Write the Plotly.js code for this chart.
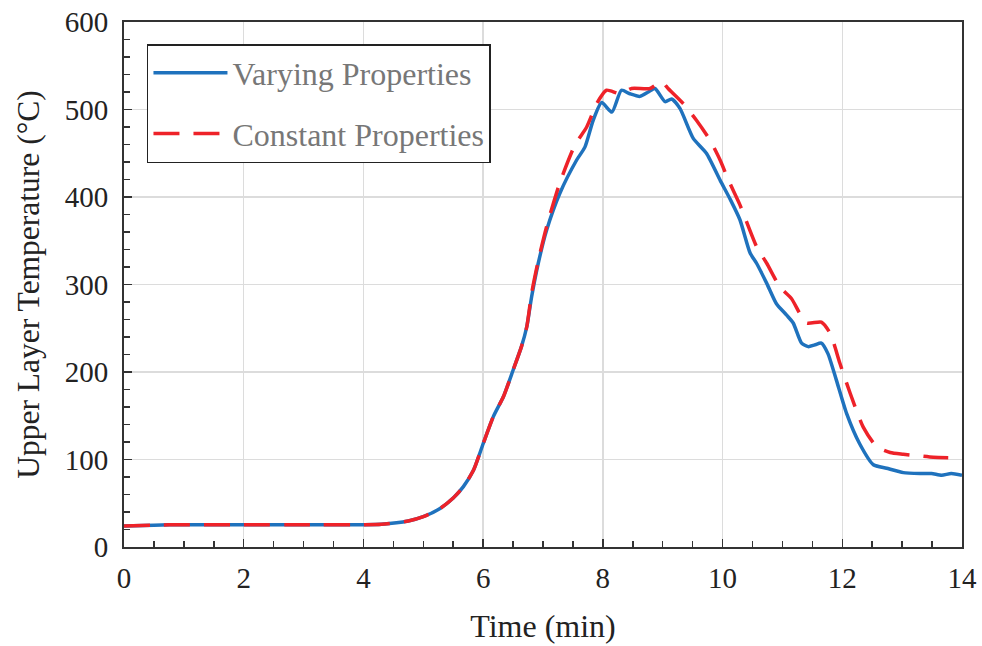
<!DOCTYPE html>
<html>
<head>
<meta charset="utf-8">
<script src="https://cdn.plot.ly/plotly-3.0.1.min.js"></script>
<style>html,body{margin:0;padding:0;background:#fff;}#chart{width:982px;height:646px;}</style>
</head>
<body>
<div id="chart"></div>
<script>
// Varying Properties (blue, solid)
var varyingTime = [0, 0.5, 1, 2, 3, 4, 4.3, 4.75, 5.0, 5.28, 5.5, 5.67, 5.84, 6.0, 6.17, 6.34, 6.5, 6.64, 6.73, 6.81, 6.92, 7.06, 7.28, 7.56, 7.70, 7.84, 7.98, 8.15, 8.31, 8.45, 8.62, 8.76, 8.87, 9.04, 9.15, 9.29, 9.51, 9.73, 9.96, 10.13, 10.29, 10.46, 10.57, 10.74, 10.90, 11.07, 11.18, 11.32, 11.43, 11.54, 11.65, 11.76, 11.90, 12.07, 12.29, 12.52, 12.74, 13.02, 13.30, 13.49, 13.66, 13.82, 14.0];
var varyingTemp = [24, 25, 25.5, 25.5, 25.5, 25.5, 26, 29.7, 34.6, 44, 56, 69, 88, 118, 149, 172, 202, 229, 252, 286, 324, 362, 404, 442, 457, 488, 508, 497, 522, 518, 515, 520, 524, 509, 512, 501, 467, 450, 419, 397, 374, 336, 324, 301, 278, 265, 256, 233, 229, 231, 233, 221, 191, 153, 118, 94, 90, 85, 84, 84, 82, 84, 82];

// Constant Properties (red, dashed)
var constantTime = [0, 0.5, 1, 2, 3, 4, 4.3, 4.75, 5.0, 5.28, 5.5, 5.67, 5.84, 6.0, 6.17, 6.34, 6.5, 6.64, 6.73, 6.81, 6.92, 7.06, 7.28, 7.53, 7.73, 7.90, 8.06, 8.29, 8.48, 8.79, 8.98, 9.09, 9.34, 9.56, 9.79, 9.96, 10.10, 10.29, 10.57, 10.74, 10.96, 11.15, 11.40, 11.65, 11.80, 11.96, 12.13, 12.35, 12.57, 12.80, 13.02, 13.30, 13.52, 13.77];
var constantTemp = [24, 25, 25.5, 25.5, 25.5, 25.5, 26, 29.7, 34.6, 44, 56, 69, 88, 118, 149, 172, 202, 229, 252, 290, 327, 366, 416, 459, 480, 507, 522, 518, 524, 524, 532, 524, 507, 488, 465, 442, 419, 391, 343, 324, 297, 284, 256, 257, 244, 210, 176, 137, 115, 108, 106, 104, 102.5, 102];

var seriesNames = ["Varying Properties", "Constant Properties"];
var xTickVals = [0, 2, 4, 6, 8, 10, 12, 14];
var yTickVals = [0, 100, 200, 300, 400, 500, 600];

var FONT = "Liberation Serif, Times New Roman, serif";

var traces = [
  {
    x: varyingTime, y: varyingTemp, name: seriesNames[0], type: "scatter", mode: "lines",
    line: {color: "#1f72bd", width: 3.5, shape: "spline", smoothing: 0.6},
    legendgroup: "a"
  },
  {
    x: constantTime, y: constantTemp, name: seriesNames[1], type: "scatter", mode: "lines",
    line: {color: "#ee2229", width: 3.5, shape: "spline", smoothing: 0.6, dash: "26px,14px"},
    legendgroup: "b"
  }
];

var axisCommon = {
  showline: true, linecolor: "#333", linewidth: 2, mirror: true,
  showgrid: true, gridcolor: "#dcdcdc", gridwidth: 1.5,
  zeroline: false, ticks: "inside", ticklen: 8, tickwidth: 1.5, tickcolor: "#333",
  tickfont: {family: FONT, size: 29, color: "#222"}
};

var layout = {
  width: 982, height: 646,
  margin: {l: 124, r: 20, t: 22, b: 99},
  paper_bgcolor: "#fff", plot_bgcolor: "#fff",
  font: {family: FONT, color: "#222"},
  showlegend: true,
  legend: {
    x: 0.0274, y: 0.958, xanchor: "left", yanchor: "top",
    bgcolor: "#fff", bordercolor: "#222", borderwidth: 1.5,
    font: {family: FONT, size: 32, color: "#777"},
    tracegroupgap: 16, itemwidth: 74
  },
  xaxis: Object.assign({}, axisCommon, {
    range: [0, 14], tickvals: xTickVals, ticktext: xTickVals.map(String),
    ticklabelstandoff: 4,
    minor: {dtick: 0.5, ticks: "inside", ticklen: 6, tickwidth: 1.5, tickcolor: "#333", showgrid: false},
    title: {text: "Time (min)", font: {family: FONT, size: 32, color: "#222"}, standoff: 22}
  }),
  yaxis: Object.assign({}, axisCommon, {
    range: [0, 600], tickvals: yTickVals, ticktext: yTickVals.map(String),
    minor: {dtick: 20, ticks: "inside", ticklen: 6, tickwidth: 1.5, tickcolor: "#333", showgrid: false},
    ticklabelstandoff: 8,
    title: {text: "Upper Layer Temperature (°C)", font: {family: FONT, size: 31.5, color: "#222"}, standoff: 16}
  })
};

Plotly.newPlot("chart", traces, layout, {displayModeBar: false, staticPlot: true});
</script>
</body>
</html>
